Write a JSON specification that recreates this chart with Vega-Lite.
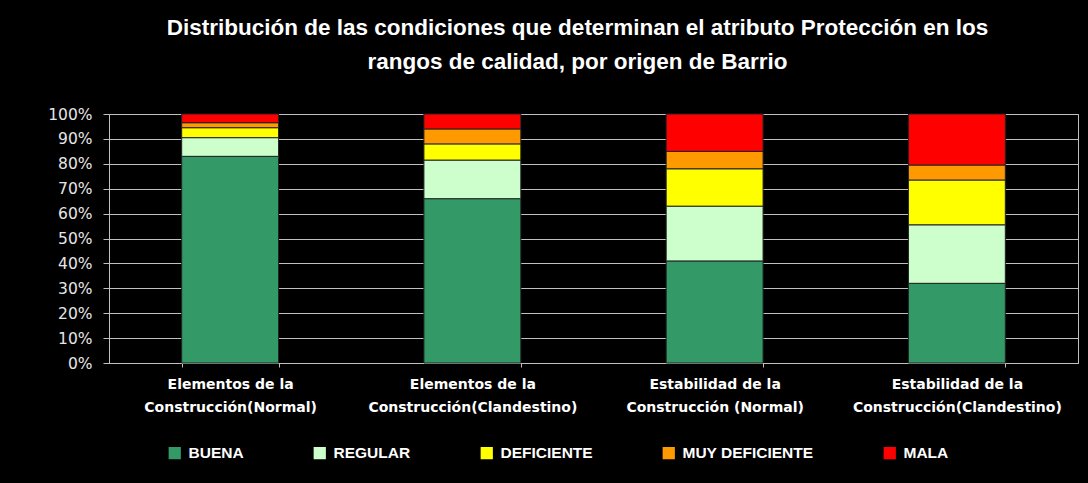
{
  "$schema": "https://vega.github.io/schema/vega-lite/v6.json",
  "width": 969,
  "height": 249,
  "autosize": {"type": "none"},
  "padding": {"left": 109, "top": 114, "right": 10, "bottom": 120},
  "background": "#000000",
  "title": {
    "text": ["Distribución de las condiciones que determinan el atributo Protección en los", "rangos de calidad, por origen de Barrio"],
    "font": "Liberation Sans",
    "fontSize": 22.5,
    "fontWeight": "bold",
    "color": "#ffffff",
    "lineHeight": 34,
    "anchor": "middle",
    "frame": "group",
    "dx": -16,
    "offset": 34
  },
  "config": {
    "view": {"stroke": "#c0c0c0", "strokeWidth": 1},
    "font": "Liberation Sans"
  },
  "data": {
    "values": [
      {"cat": "Elementos de la Construcción(Normal)", "cond": "BUENA", "ord": 1, "v": 83},
      {"cat": "Elementos de la Construcción(Normal)", "cond": "REGULAR", "ord": 2, "v": 7.5},
      {"cat": "Elementos de la Construcción(Normal)", "cond": "DEFICIENTE", "ord": 3, "v": 4},
      {"cat": "Elementos de la Construcción(Normal)", "cond": "MUY DEFICIENTE", "ord": 4, "v": 2},
      {"cat": "Elementos de la Construcción(Normal)", "cond": "MALA", "ord": 5, "v": 3.5},
      {"cat": "Elementos de la Construcción(Clandestino)", "cond": "BUENA", "ord": 1, "v": 66},
      {"cat": "Elementos de la Construcción(Clandestino)", "cond": "REGULAR", "ord": 2, "v": 15.5},
      {"cat": "Elementos de la Construcción(Clandestino)", "cond": "DEFICIENTE", "ord": 3, "v": 6.5},
      {"cat": "Elementos de la Construcción(Clandestino)", "cond": "MUY DEFICIENTE", "ord": 4, "v": 6},
      {"cat": "Elementos de la Construcción(Clandestino)", "cond": "MALA", "ord": 5, "v": 6},
      {"cat": "Estabilidad de la Construcción (Normal)", "cond": "BUENA", "ord": 1, "v": 41},
      {"cat": "Estabilidad de la Construcción (Normal)", "cond": "REGULAR", "ord": 2, "v": 22},
      {"cat": "Estabilidad de la Construcción (Normal)", "cond": "DEFICIENTE", "ord": 3, "v": 15},
      {"cat": "Estabilidad de la Construcción (Normal)", "cond": "MUY DEFICIENTE", "ord": 4, "v": 7},
      {"cat": "Estabilidad de la Construcción (Normal)", "cond": "MALA", "ord": 5, "v": 15},
      {"cat": "Estabilidad de la Construcción(Clandestino)", "cond": "BUENA", "ord": 1, "v": 32},
      {"cat": "Estabilidad de la Construcción(Clandestino)", "cond": "REGULAR", "ord": 2, "v": 23.5},
      {"cat": "Estabilidad de la Construcción(Clandestino)", "cond": "DEFICIENTE", "ord": 3, "v": 18},
      {"cat": "Estabilidad de la Construcción(Clandestino)", "cond": "MUY DEFICIENTE", "ord": 4, "v": 6},
      {"cat": "Estabilidad de la Construcción(Clandestino)", "cond": "MALA", "ord": 5, "v": 20.5}
    ]
  },
  "mark": {"type": "bar", "stroke": "#222222", "strokeWidth": 1},
  "encoding": {
    "x": {
      "field": "cat",
      "type": "nominal",
      "sort": null,
      "title": null,
      "scale": {"paddingInner": 0.6, "paddingOuter": 0.3},
      "axis": {
        "labelAngle": 0,
        "labelExpr": "[slice(datum.label, 0, indexof(datum.label, ' Construcción')), slice(datum.label, indexof(datum.label, ' Construcción') + 1)]",
        "labelColor": "#ffffff",
        "labelFont": "DejaVu Sans",
        "labelFontWeight": "bold",
        "labelFontSize": 14,
        "labelLineHeight": 23,
        "labelPadding": 10,
        "labelLimit": 300,
        "labelOverlap": false,
        "domainColor": "#c0c0c0",
        "tickColor": "#c0c0c0",
        "tickBand": "extent",
        "tickSize": 4
      }
    },
    "y": {
      "field": "v",
      "type": "quantitative",
      "stack": "normalize",
      "title": null,
      "scale": {"domain": [0, 1]},
      "axis": {
        "format": ".0%",
        "values": [0, 0.1, 0.2, 0.3, 0.4, 0.5, 0.6, 0.7, 0.8, 0.9, 1],
        "labelOverlap": false,
        "labelColor": "#e6e6e6",
        "labelFont": "DejaVu Sans",
        "labelFontSize": 15.5,
        "labelPadding": 11,
        "gridColor": "#c0c0c0",
        "gridWidth": 1,
        "domainColor": "#c0c0c0",
        "tickColor": "#c0c0c0",
        "tickSize": 6
      }
    },
    "color": {
      "field": "cond",
      "type": "nominal",
      "title": null,
      "scale": {
        "domain": ["BUENA", "REGULAR", "DEFICIENTE", "MUY DEFICIENTE", "MALA"],
        "range": ["#339966", "#ccffcc", "#ffff00", "#ff9900", "#ff0000"]
      },
      "legend": {
        "orient": "none",
        "direction": "horizontal",
        "legendX": 58,
        "legendY": 331,
        "symbolType": "square",
        "symbolSize": 150,
        "symbolStrokeWidth": 0,
        "symbolOpacity": 1,
        "labelColor": "#ffffff",
        "labelFont": "Liberation Sans",
        "labelFontWeight": "bold",
        "labelFontSize": 15.5,
        "columnPadding": 68,
        "labelOffset": 6
      }
    },
    "order": {"field": "ord", "type": "quantitative"}
  }
}
